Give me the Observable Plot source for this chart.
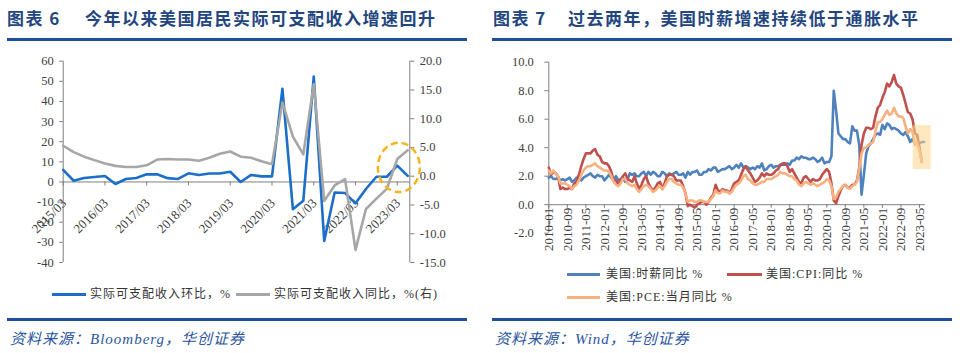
<!DOCTYPE html>
<html><head><meta charset="utf-8">
<script src="https://cdn.jsdelivr.net/npm/d3@7"></script>
<script src="https://cdn.jsdelivr.net/npm/@observablehq/plot@0.6"></script>
<style>
body{margin:0;background:#fff;}
#root{position:relative;width:960px;height:353px;overflow:hidden;}
.abs{position:absolute;white-space:nowrap;}
.title{font-family:"Noto Sans CJK SC",sans-serif;font-weight:700;font-size:17px;line-height:20px;color:#24467F;letter-spacing:1.5px;}
.bar{position:absolute;height:3px;background:#1F4E9A;}
.src{font-style:italic;font-size:15px;line-height:20px;color:#2A55A0;letter-spacing:1px;font-family:"Liberation Serif","Noto Sans CJK SC",serif;}
.leg{font-size:12px;line-height:16px;color:#333;letter-spacing:1px;font-family:"Liberation Serif","Noto Sans CJK SC",serif;}
.sw{position:absolute;height:2.5px;}
.plot{position:absolute;}
</style></head>
<body><div id="root">
<div class="abs title" style="left:7px;top:8px;">图表 6</div>
<div class="abs title" style="left:85px;top:8px;">今年以来美国居民实际可支配收入增速回升</div>
<div class="bar" style="left:7px;top:38px;width:460px;"></div>
<div class="abs title" style="left:493px;top:8px;">图表 7</div>
<div class="abs title" style="left:568px;top:8px;">过去两年，美国时薪增速持续低于通胀水平</div>
<div class="bar" style="left:492px;top:38px;width:460px;"></div>

<div id="c1" class="plot" style="left:0;top:50px;"></div>
<div id="c2" class="plot" style="left:480px;top:50px;"></div>

<div class="sw" style="left:52px;top:293px;width:34px;background:#1B6FC8;"></div>
<div class="abs leg" style="left:90px;top:286px;">实际可支配收入环比，%</div>
<div class="sw" style="left:236px;top:293px;width:34px;background:#A6A6A6;"></div>
<div class="abs leg" style="left:274px;top:286px;">实际可支配收入同比，%(右)</div>

<div class="sw" style="left:567px;top:273px;width:33px;background:#4F81BD;"></div>
<div class="abs leg" style="left:606px;top:266px;">美国:时薪同比 %</div>
<div class="sw" style="left:727px;top:273px;width:35px;background:#C0504D;"></div>
<div class="abs leg" style="left:766px;top:266px;">美国:CPI:同比 %</div>
<div class="sw" style="left:567px;top:296px;width:33px;background:#F7B07E;"></div>
<div class="abs leg" style="left:606px;top:289px;">美国:PCE:当月同比 %</div>

<div class="bar" style="left:7px;top:318px;width:460px;"></div>
<div class="bar" style="left:492px;top:318px;width:460px;"></div>
<div class="abs src" style="left:10px;top:329px;">资料来源：Bloomberg，华创证券</div>
<div class="abs src" style="left:495px;top:329px;">资料来源：Wind，华创证券</div>
</div>
<script>
// ---------- Chart 6 data (quarterly) ----------
const quarters = ["2015/03","2015/06","2015/09","2015/12","2016/03","2016/06","2016/09","2016/12",
  "2017/03","2017/06","2017/09","2017/12","2018/03","2018/06","2018/09","2018/12",
  "2019/03","2019/06","2019/09","2019/12","2020/03","2020/06","2020/09","2020/12",
  "2021/03","2021/06","2021/09","2021/12","2022/03","2022/06","2022/09","2022/12",
  "2023/03","2023/06"];
const incomeQoQ = [6.0,0.6,2.0,2.5,3.0,-1.0,1.5,2.0,3.8,3.8,1.9,1.5,4.3,3.5,4.2,4.2,
  5.1,0.0,3.5,2.8,2.8,46.3,-13.5,-9.3,52.4,-29.3,-5.2,-5.5,-10.6,-3.5,2.6,2.6,8.1,3.0];
const incomeYoY = [5.3,4.2,3.4,2.8,2.2,1.8,1.6,1.6,1.9,2.9,3.0,2.9,2.9,2.7,3.2,3.9,
  4.3,3.4,3.2,2.6,2.1,12.8,6.9,3.8,16.0,-4.3,-1.6,-0.5,-12.8,-5.7,-3.9,-2.2,3.0,4.5];
const leftTicks = [-40,-30,-20,-10,0,10,20,30,40,50,60];
const rightTicks = [-15,-10,-5,0,5,10,15,20];

// ---------- Chart 7 data (monthly from 2010-01) ----------
const monthTickLabels = ["2010-01","2010-09","2011-05","2012-01","2012-09","2013-05","2014-01",
  "2014-09","2015-05","2016-01","2016-09","2017-05","2018-01","2018-09","2019-05","2020-01",
  "2020-09","2021-05","2022-01","2022-09","2023-05"];
const wageYoY = [
 1.9,2.0,1.8,1.8,1.9,1.7,1.8,1.7,1.8,1.9,1.6,1.7,
 1.9,1.8,1.7,1.9,2.0,2.1,2.2,2.0,1.9,2.1,2.0,2.0,
 1.7,1.9,2.1,1.9,1.7,2.0,1.7,1.8,1.9,1.6,1.8,2.2,
 2.1,2.2,2.0,2.0,2.2,2.3,2.0,2.3,2.1,2.3,2.2,2.0,
 2.0,2.3,2.2,2.0,2.2,2.1,2.2,2.3,2.1,2.1,2.2,1.9,
 2.3,2.1,2.3,2.3,2.4,2.1,2.1,2.3,2.3,2.5,2.4,2.6,
 2.6,2.3,2.4,2.5,2.5,2.6,2.7,2.5,2.6,2.8,2.6,2.9,
 2.6,2.7,2.6,2.5,2.6,2.5,2.7,2.6,2.9,2.4,2.5,2.7,
 2.8,2.6,2.7,2.7,2.8,2.8,2.8,2.9,2.8,3.1,3.1,3.3,
 3.2,3.4,3.3,3.3,3.2,3.2,3.3,3.2,3.0,3.1,3.3,2.9,
 3.0,3.0,3.4,8.0,6.6,5.0,4.8,4.6,4.6,4.4,4.3,5.5,
 5.2,5.2,4.2,0.7,2.1,3.6,4.1,4.3,4.6,4.9,5.0,4.9,
 5.6,5.3,5.7,5.6,5.3,5.4,5.3,5.2,5.0,4.9,5.1,4.8,
 4.4,4.6,4.3,4.4,4.3,4.4,4.4];
const cpiYoY = [
 2.6,2.1,2.3,2.2,2.0,1.1,1.2,1.1,1.1,1.2,1.1,1.5,
 1.6,2.1,2.7,3.2,3.6,3.6,3.6,3.8,3.9,3.5,3.4,3.0,
 2.9,2.9,2.7,2.3,1.7,1.7,1.4,1.7,2.0,2.2,1.8,1.7,
 1.6,2.0,1.5,1.1,1.4,1.8,2.0,1.5,1.2,1.0,1.2,1.5,
 1.6,1.1,1.5,2.0,2.1,2.1,2.0,1.7,1.7,1.7,1.3,0.8,
 -0.1,0.0,-0.1,-0.2,0.0,0.1,0.2,0.2,0.0,0.2,0.5,0.7,
 1.4,1.0,0.9,1.1,1.0,1.0,0.8,1.1,1.5,1.6,1.7,2.1,
 2.5,2.7,2.4,2.2,1.9,1.6,1.7,1.9,2.2,2.0,2.2,2.1,
 2.1,2.2,2.4,2.5,2.8,2.9,2.9,2.7,2.3,2.5,2.2,1.9,
 1.6,1.5,1.9,2.0,1.8,1.6,1.8,1.7,1.7,1.8,2.1,2.3,
 2.5,2.3,1.5,0.3,0.1,0.6,1.0,1.3,1.4,1.2,1.2,1.4,
 1.4,1.7,2.6,4.2,5.0,5.4,5.4,5.3,5.4,6.2,6.8,7.0,
 7.5,7.9,8.5,8.3,8.6,9.1,8.5,8.3,8.2,7.7,7.1,6.5,
 6.4,6.0,5.0,4.9,4.0,3.0];
const pceYoY = [
 2.4,2.2,2.4,2.2,2.0,1.5,1.5,1.5,1.4,1.3,1.1,1.3,
 1.4,1.7,2.1,2.4,2.6,2.7,2.7,2.8,2.9,2.7,2.6,2.5,
 2.4,2.4,2.3,2.0,1.6,1.4,1.3,1.5,1.8,1.8,1.5,1.4,
 1.3,1.4,1.1,0.9,1.1,1.3,1.4,1.3,1.1,0.9,1.0,1.2,
 1.3,1.1,1.3,1.6,1.8,1.8,1.6,1.5,1.4,1.4,1.2,0.8,
 0.2,0.3,0.3,0.2,0.2,0.3,0.3,0.2,0.2,0.2,0.4,0.6,
 1.0,0.8,0.8,1.0,0.9,0.9,0.8,0.9,1.2,1.4,1.5,1.7,
 2.0,2.1,1.8,1.7,1.5,1.4,1.4,1.5,1.6,1.6,1.8,1.8,
 1.8,1.9,2.0,2.1,2.3,2.2,2.2,2.1,2.0,2.0,1.8,1.7,
 1.4,1.3,1.5,1.6,1.5,1.4,1.5,1.4,1.3,1.4,1.5,1.6,
 1.8,1.7,1.3,0.4,0.5,0.9,1.1,1.3,1.4,1.2,1.1,1.3,
 1.4,1.6,2.5,3.6,4.0,4.0,4.2,4.3,4.4,5.1,5.8,5.8,
 6.0,6.3,6.6,6.3,6.4,6.8,6.4,6.2,6.2,6.1,5.5,5.0,
 5.3,5.1,4.2,4.4,3.8,3.0];
const yTicks2 = [-2,0,2,4,6,8,10];

const FONT = "'Liberation Serif', 'Times New Roman', serif";
const AX = "#7F7F7F";

// ---------- Chart 6 ----------
const L0 = -40, L1 = 60, R0 = -15, R1 = 20;
const toLeft = r => L0 + (r - R0) * (L1 - L0) / (R1 - R0);
const toRight = l => R0 + (l - L0) * (R1 - R0) / (L1 - L0);
const xMax1 = 33.2;
const rows1 = quarters.map((q, i) => ({i, q, qoq: incomeQoQ[i], yoy: toLeft(incomeYoY[i])}));
const yearIdx = quarters.map((q, i) => i).filter(i => quarters[i].endsWith("/03"));

const ellipse = (index, scales) => {
  const e = document.createElementNS("http://www.w3.org/2000/svg", "ellipse");
  e.setAttribute("cx", scales.x(32.2));
  e.setAttribute("cy", scales.y(7.0));
  e.setAttribute("rx", 21);
  e.setAttribute("ry", 24.7);
  e.setAttribute("fill", "none");
  e.setAttribute("stroke", "#F5B51E");
  e.setAttribute("stroke-width", 2.5);
  e.setAttribute("stroke-dasharray", "7,4");
  return e;
};

const chart1 = Plot.plot({
  width: 480, height: 220,
  marginTop: 10.7, marginBottom: 8, marginLeft: 62.7, marginRight: 70.7,
  style: {fontFamily: FONT, fontSize: "12px", color: "#404040", background: "transparent", overflow: "visible"},
  x: {domain: [0, xMax1], axis: null},
  y: {domain: [L0, L1]},
  marks: [
    Plot.ruleX([0], {stroke: AX}),
    Plot.ruleX([xMax1], {stroke: AX}),
    Plot.ruleY([0], {stroke: AX}),
    Plot.axisY(leftTicks, {anchor: "left", tickSize: 3.5, tickPadding: 6, stroke: AX, tickFormat: d => String(d), label: null, fontSize: 12.5}),
    Plot.axisY(rightTicks.map(toLeft), {anchor: "right", tickSize: 4, tickPadding: 6, stroke: AX,
      tickFormat: d => (Math.round(toRight(d) * 10) / 10 + 0).toFixed(1), label: null, fontSize: 12.5}),
    Plot.ruleX(yearIdx, {x: d => d, y1: 0, y2: -2, stroke: AX}),
    Plot.text(yearIdx, {x: d => d, y: 0, text: d => quarters[d], rotate: -45, textAnchor: "end", dy: 19, dx: 1, fontSize: 13, fill: "#404040"}),
    Plot.line(rows1, {x: "i", y: "qoq", stroke: "#1B6FC8", strokeWidth: 2.6}),
    Plot.line(rows1, {x: "i", y: "yoy", stroke: "#A6A6A6", strokeWidth: 2.6}),
    ellipse
  ]
});
document.getElementById("c1").appendChild(chart1);

// ---------- Chart 7 ----------
const xMax2 = 162.6;
const mk = arr => arr.map((v, i) => ({i, v}));
const tickIdx2 = monthTickLabels.map((s, k) => k * 8);

const chart2 = Plot.plot({
  width: 480, height: 210,
  marginTop: 11.7, marginBottom: 27.3, marginLeft: 68.3, marginRight: 35,
  style: {fontFamily: FONT, fontSize: "12px", color: "#404040", background: "transparent", overflow: "visible"},
  x: {domain: [0, xMax2], axis: null},
  y: {domain: [-2, 10]},
  marks: [
    Plot.ruleX([0], {stroke: AX}),
    Plot.ruleY([0], {stroke: AX}),
    Plot.axisY(yTicks2, {anchor: "left", tickSize: 4, tickPadding: 11, stroke: AX, tickFormat: d => d.toFixed(1), label: null, fontSize: 12.5}),
    Plot.ruleX(tickIdx2, {x: d => d, y1: 0, y2: -0.25, stroke: AX}),
    Plot.text(tickIdx2, {x: d => d, y: 0, text: (d, k) => monthTickLabels[k], rotate: -90, textAnchor: "end", dy: 3, fontSize: 13, fill: "#404040"}),
    Plot.line(mk(wageYoY), {x: "i", y: "v", stroke: "#4F81BD", strokeWidth: 2.6}),
    Plot.line(mk(cpiYoY), {x: "i", y: "v", stroke: "#C0504D", strokeWidth: 2.6}),
    Plot.line(mk(pceYoY), {x: "i", y: "v", stroke: "#F7B07E", strokeWidth: 2.6}),
    Plot.rect([{a: 157.3, b: 165.0, lo: 2.46, hi: 5.56}], {x1: "a", x2: "b", y1: "lo", y2: "hi", fill: "#FBD68A", fillOpacity: 0.55})
  ]
});
document.getElementById("c2").appendChild(chart2);
</script>
</body></html>
